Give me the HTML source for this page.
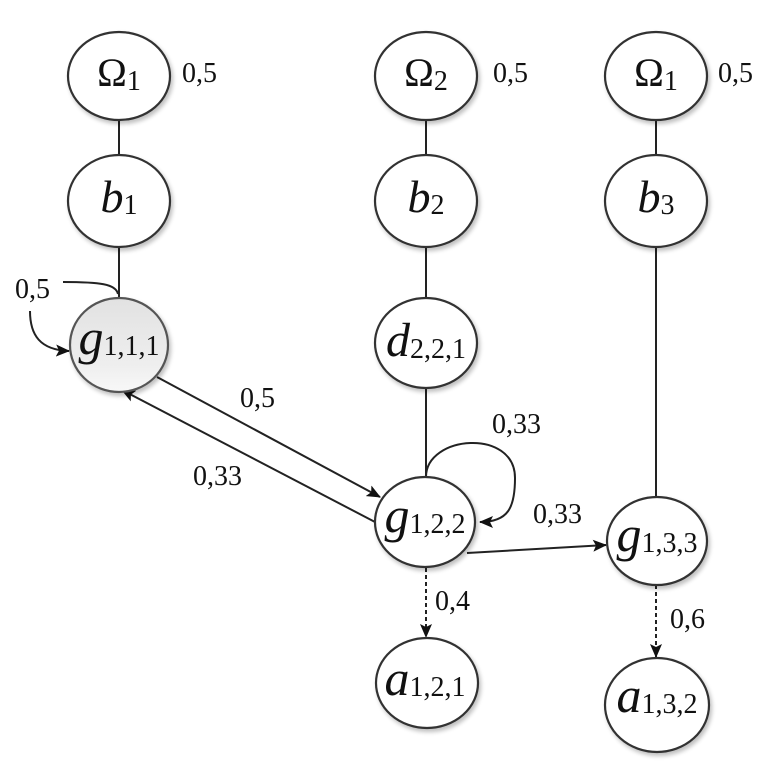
<!DOCTYPE html>
<html><head><meta charset="utf-8"><style>
html,body{margin:0;padding:0;background:#fff;}
svg{display:block;}
svg text{font-family:"Liberation Serif","Times New Roman",Times,Tinos,"DejaVu Serif","Noto Serif CJK SC",serif;}
</style></head><body>
<svg width="782" height="767" viewBox="0 0 782 767" xmlns="http://www.w3.org/2000/svg">
<defs>
<marker id="ah" markerWidth="14" markerHeight="12" refX="13" refY="6" orient="auto" markerUnits="userSpaceOnUse">
<path d="M0,0 L14,6 L0,12 L3,6 z" fill="#111"/>
</marker>
<linearGradient id="gg" x1="0" y1="0" x2="0" y2="1">
<stop offset="0" stop-color="#e2e2e2"/><stop offset="0.7" stop-color="#eeeeee"/><stop offset="1" stop-color="#f8f8f8"/>
</linearGradient>
<filter id="sh" x="-20%" y="-20%" width="140%" height="140%">
<feGaussianBlur in="SourceAlpha" stdDeviation="2"/><feOffset dx="2" dy="3"/>
<feComponentTransfer><feFuncA type="linear" slope="0.25"/></feComponentTransfer>
<feMerge><feMergeNode/><feMergeNode in="SourceGraphic"/></feMerge>
</filter>
</defs>

<g stroke="#222" stroke-width="2" fill="none">
<line x1="119" y1="120" x2="119" y2="155"/>
<line x1="119" y1="247" x2="119" y2="298"/>
<line x1="426" y1="120" x2="426" y2="155"/>
<line x1="426" y1="247" x2="426" y2="298"/>
<line x1="426" y1="388" x2="426" y2="477"/>
<line x1="656" y1="120" x2="656" y2="155"/>
<line x1="656" y1="247" x2="656" y2="497"/>
<path d="M118,294 C116,284 100,282 63,282"/>
<path d="M30,311 C30,335 40,350 69,351" marker-end="url(#ah)"/>
<path d="M157,377 L380,497" marker-end="url(#ah)"/>
<path d="M375,522 L122,390" marker-end="url(#ah)"/>
<path d="M426,477 C426,435 515,428 515,478 C515,508 508,522 480,522" marker-end="url(#ah)"/>
<path d="M467,553 L606,545" marker-end="url(#ah)"/>
<path d="M426,568 L426,637" stroke-dasharray="4,3" marker-end="url(#ah)"/>
<path d="M656,585 L656,657" stroke-dasharray="4,3" marker-end="url(#ah)"/>
</g>

<g stroke="#333" stroke-width="2.2" fill="#fff" filter="url(#sh)">
<ellipse cx="119" cy="76" rx="51" ry="44"/>
<ellipse cx="119" cy="201" rx="51" ry="46"/>
<ellipse cx="119" cy="345" rx="49" ry="47" fill="url(#gg)" stroke="#555"/>
<ellipse cx="426" cy="76" rx="51" ry="44"/>
<ellipse cx="426" cy="201" rx="51" ry="46"/>
<ellipse cx="426" cy="343" rx="51" ry="45"/>
<ellipse cx="425" cy="522" rx="50" ry="45"/>
<ellipse cx="427" cy="683" rx="51" ry="45"/>
<ellipse cx="656" cy="76" rx="51" ry="44"/>
<ellipse cx="656" cy="201" rx="51" ry="46"/>
<ellipse cx="657" cy="541" rx="50" ry="44"/>
<ellipse cx="657" cy="705" rx="52" ry="47"/>
</g>

<g fill="#111">
<text x="119" y="86" text-anchor="middle"><tspan font-size="40">Ω</tspan><tspan font-size="28" dy="4">1</tspan></text>
<text x="426" y="86" text-anchor="middle"><tspan font-size="40">Ω</tspan><tspan font-size="28" dy="4">2</tspan></text>
<text x="656" y="86" text-anchor="middle"><tspan font-size="40">Ω</tspan><tspan font-size="28" dy="4">1</tspan></text>

<text x="119" y="212" text-anchor="middle"><tspan font-size="46" font-style="italic">b</tspan><tspan font-size="28" dy="2">1</tspan></text>
<text x="426" y="212" text-anchor="middle"><tspan font-size="46" font-style="italic">b</tspan><tspan font-size="28" dy="2">2</tspan></text>
<text x="656" y="212" text-anchor="middle"><tspan font-size="46" font-style="italic">b</tspan><tspan font-size="28" dy="2">3</tspan></text>

<text x="119" y="354" text-anchor="middle"><tspan font-size="50" font-style="italic">g</tspan><tspan font-size="28" dy="1">1,1,1</tspan></text>
<text x="426" y="356" text-anchor="middle"><tspan font-size="48" font-style="italic">d</tspan><tspan font-size="28" dy="2">2,2,1</tspan></text>
<text x="425" y="532" text-anchor="middle"><tspan font-size="50" font-style="italic">g</tspan><tspan font-size="28" dy="1">1,2,2</tspan></text>
<text x="657" y="551" text-anchor="middle"><tspan font-size="50" font-style="italic">g</tspan><tspan font-size="28" dy="1">1,3,3</tspan></text>
<text x="425" y="695" text-anchor="middle"><tspan font-size="50" font-style="italic">a</tspan><tspan font-size="28" dy="1">1,2,1</tspan></text>
<text x="657" y="712" text-anchor="middle"><tspan font-size="50" font-style="italic">a</tspan><tspan font-size="28" dy="1">1,3,2</tspan></text>

<text font-size="28" x="182" y="82">0,5</text>
<text font-size="28" x="493" y="82">0,5</text>
<text font-size="28" x="718" y="82">0,5</text>
<text font-size="28" x="15" y="298">0,5</text>
<text font-size="28" x="240" y="407">0,5</text>
<text font-size="28" x="193" y="485">0,33</text>
<text font-size="28" x="492" y="433">0,33</text>
<text font-size="28" x="533" y="523">0,33</text>
<text font-size="28" x="435" y="610">0,4</text>
<text font-size="28" x="670" y="628">0,6</text>
</g>
</svg>
</body></html>
